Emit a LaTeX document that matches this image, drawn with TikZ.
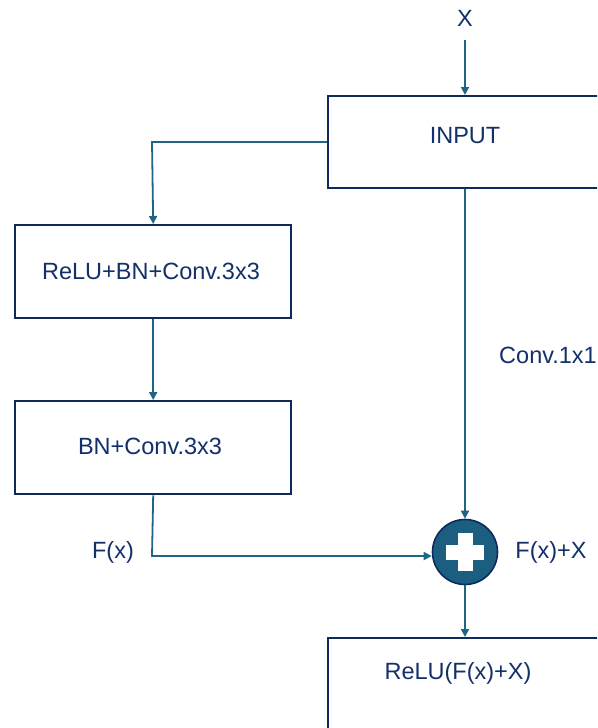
\documentclass[tikz,border=0pt]{standalone}
\usepackage{fontspec}
\setmainfont{Liberation Sans}
\usetikzlibrary{arrows.meta}
\definecolor{wire}{HTML}{1F6585}
\definecolor{frame}{HTML}{0E2A5C}
\definecolor{ink}{HTML}{14306A}
\definecolor{sumfill}{HTML}{1B5E80}
\tikzset{
  block/.style={draw=frame, line width=2.4pt, fill=white, anchor=north west, inner sep=0pt},
  lbl/.style={text=ink, font=\fontsize{23.5}{27}\selectfont, inner sep=0pt},
  flow/.style={draw=wire, line width=1.8pt, -{Triangle[length=8pt,width=8pt]}},
}
\begin{document}
\begin{tikzpicture}[x=1pt,y=-1pt]
  \clip (0,0) rectangle (597,728);
  \useasboundingbox (0,0) rectangle (597,728);

  % blocks
  \node[block, minimum width=280pt, minimum height=92pt] (inp) at (327,95) {};
  \node[lbl] (inpt) at (465,136) {INPUT};
  \node[block, minimum width=276pt, minimum height=93pt] (b1) at (14,224) {};
  \node[lbl] (b1t) at (151,271) {ReLU+BN+Conv.3x3};
  \node[block, minimum width=276pt, minimum height=93pt] (b2) at (14,400) {};
  \node[lbl] (b2t) at (150,446) {BN+Conv.3x3};
  \node[block, minimum width=280pt, minimum height=100pt] (out) at (327,637) {};
  \node[lbl] (outt) at (458,673) {ReLU(F(x)+X)};

  % summation
  \node[circle, draw=frame, line width=1.6pt, fill=sumfill, minimum size=65pt, inner sep=0pt] (sum) at (465,552) {};
  \fill[white] (457.5,533) rectangle (472.5,571);
  \fill[white] (446,544.5) rectangle (484,559.5);

  % labels
  \node[lbl] (xin) at (465,18) {X};
  \node[lbl] (fx) at (113,552) {F(x)};
  \node[lbl] (fxx) at (551,552) {F(x)+X};
  \node[lbl] (c11) at (548,355) {Conv.1x1};

  % connectors
  \coordinate (xtop) at (465,40);
  \draw[flow] (xtop) -- (inp.north west -| xin);
  \draw[flow] (inp.west |- 0,142) -- (152,142) -- (b1.north);
  \draw[flow] (b1.south) -- (b2.north);
  \draw[flow] (b2.south) -- (152,556) -- (sum.west |- 0,556);
  \draw[flow] (inp.south west -| xin) -- (sum.north);
  \draw[flow] (sum.south) -- (out.north west -| xin);
\end{tikzpicture}
\end{document}
